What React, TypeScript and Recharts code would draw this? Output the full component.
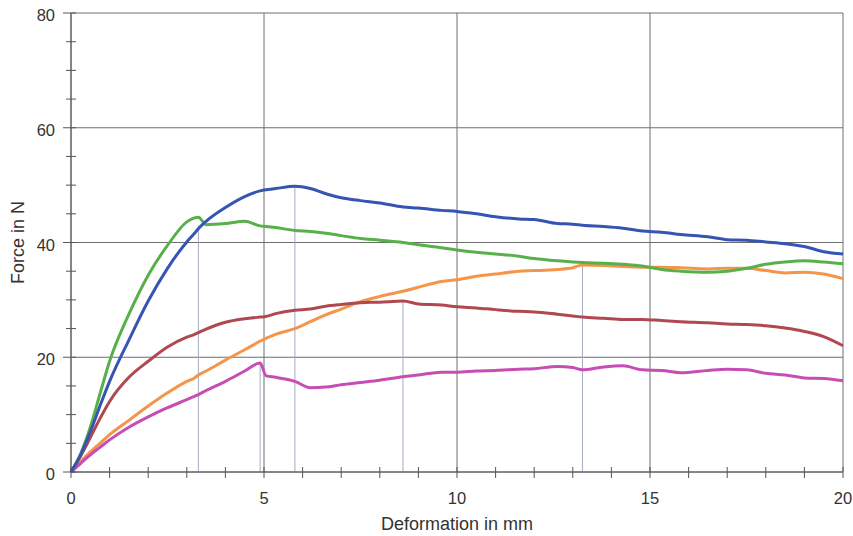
import React from 'react';
import { LineChart, Line, XAxis, YAxis, CartesianGrid, ReferenceLine } from 'recharts';

// deformation (mm) sample points shared by all curves
const deformation = [
  0, 0.25, 0.5, 0.75, 1, 1.5, 2, 2.5, 3, 3.2, 3.3, 3.5, 4, 4.5, 4.9, 5.05, 5.3, 5.8, 6.2, 6.6, 7, 7.5, 8, 8.6,
  9, 9.6, 10, 10.5, 11, 11.6, 12, 12.6, 13, 13.25, 13.8, 14.3, 14.8, 15.3, 15.8, 16.5, 17, 17.5, 18, 18.5, 19, 19.5, 20,
];

// force (N) per curve
const blueForce = [
  0, 3, 7, 11.5, 15.8, 23, 29.8, 35.5, 40.1, 41.6, 42.4, 43.7, 46.1, 48, 49, 49.2, 49.4, 49.8, 49.4, 48.5, 47.8, 47.3, 46.9, 46.2,
  46, 45.6, 45.4, 45, 44.5, 44.1, 44, 43.3, 43.2, 43, 42.8, 42.5, 42, 41.8, 41.4, 41, 40.5, 40.4, 40.1, 39.8, 39.3, 38.4, 38,
];
const greenForce = [
  0, 3.2, 7.8, 13.6, 19.3, 27.5, 34.3, 39.5, 43.6, 44.3, 44.4, 43.1, 43.3, 43.7, 42.9, 42.8, 42.6, 42.1, 41.9, 41.6, 41.2, 40.7, 40.4, 40,
  39.6, 39.1, 38.7, 38.3, 38, 37.6, 37.2, 36.8, 36.6, 36.5, 36.4, 36.2, 35.9, 35.3, 35, 34.8, 35, 35.5, 36.2, 36.6, 36.8, 36.6, 36.3,
];
const redForce = [
  0, 2.8, 6, 9.3, 12.3, 16.5, 19.3, 21.8, 23.5, 24, 24.3, 24.9, 26.1, 26.7, 27, 27.1, 27.6, 28.2, 28.4, 28.9, 29.2, 29.5, 29.6, 29.8,
  29.3, 29.1, 28.8, 28.6, 28.3, 28, 27.9, 27.5, 27.2, 27, 26.8, 26.6, 26.6, 26.4, 26.2, 26, 25.8, 25.7, 25.5, 25.1, 24.5, 23.6, 22,
];
const orangeForce = [
  0, 1.8, 3.5, 5, 6.5, 9, 11.5, 13.8, 15.8, 16.4, 16.9, 17.6, 19.5, 21.3, 22.8, 23.3, 24, 25, 26.2, 27.4, 28.4, 29.7, 30.6, 31.5,
  32.2, 33.2, 33.5, 34.1, 34.5, 35, 35.1, 35.3, 35.6, 36.1, 36, 35.8, 35.7, 35.7, 35.6, 35.4, 35.5, 35.5, 35.1, 34.7, 34.8, 34.5, 33.7,
];
const magentaForce = [
  0, 1.5, 3, 4.3, 5.6, 7.8, 9.6, 11.2, 12.6, 13.2, 13.5, 14.2, 15.8, 17.6, 19, 16.8, 16.5, 15.8, 14.7, 14.8, 15.2, 15.6, 16, 16.6,
  16.9, 17.4, 17.4, 17.6, 17.7, 17.9, 18, 18.4, 18.2, 17.8, 18.3, 18.5, 17.8, 17.7, 17.3, 17.7, 17.9, 17.8, 17.2, 16.9, 16.4, 16.3, 15.9,
];

// thin drop lines from the marked points down to the x axis
const markerX = [3.3, 4.9, 5.8, 8.6, 13.25];
const markerForce = [43, 19, 49.8, 29.8, 36.1];

const xTicks = Array.from({ length: 21 }, (_, i) => i);
const yTicks = Array.from({ length: 17 }, (_, i) => i * 5);

const data = deformation.map((d, i) => ({
  d,
  blue: blueForce[i],
  green: greenForce[i],
  red: redForce[i],
  orange: orangeForce[i],
  magenta: magentaForce[i],
}));

const FONT = '"Liberation Sans", Arial, sans-serif';
const AXIS = '#555';

const XTick = (props: any) => {
  const { x, y, payload } = props;
  const v = payload.value;
  return (
    <g>
      <line x1={x} x2={x} y1={y - 5} y2={y + 6} stroke={AXIS} strokeWidth={1} />
      {v % 5 === 0 && (
        <text x={x} y={y + 32} textAnchor="middle" fontSize={16.5} fill="#333" fontFamily={FONT}>
          {v}
        </text>
      )}
    </g>
  );
};

const YTick = (props: any) => {
  const { x, y, payload } = props;
  const v = payload.value;
  const major = v % 20 === 0;
  return (
    <g>
      <line x1={major ? x - 8 : x - 5} x2={x + 5} y1={y} y2={y} stroke={AXIS} strokeWidth={1} />
      {major && (
        <text x={x - 16} y={y + 8} textAnchor="end" fontSize={16.5} fill="#333" fontFamily={FONT}>
          {v}
        </text>
      )}
    </g>
  );
};

const series = [
  { key: 'orange', color: '#f4954a' },
  { key: 'red', color: '#b04850' },
  { key: 'magenta', color: '#c64db4' },
  { key: 'green', color: '#58b04a' },
  { key: 'blue', color: '#3654b2' },
];

export default function App() {
  return (
    <div style={{ position: 'absolute', left: 0, top: 0, width: 853, height: 536, background: '#fff' }}>
      <LineChart width={853} height={536} data={data} margin={{ top: 13, right: 10, bottom: 4, left: 11 }}>
        <CartesianGrid
          stroke="#6e6e6e"
          strokeWidth={1}
          horizontalValues={[0, 20, 40, 60, 80]}
          verticalValues={[0, 5, 10, 15, 20]}
        />
        <XAxis
          dataKey="d"
          type="number"
          domain={[0, 20]}
          ticks={xTicks}
          interval={0}
          height={60}
          tickSize={0}
          tickMargin={0}
          tickLine={false}
          axisLine={{ stroke: AXIS }}
          tick={<XTick />}
          label={{
            value: 'Deformation in mm',
            position: 'insideBottom',
            offset: 2,
            style: { fontSize: 18, fill: '#333', fontFamily: FONT },
          }}
        />
        <YAxis
          type="number"
          domain={[0, 80]}
          ticks={yTicks}
          interval={0}
          width={60}
          tickSize={0}
          tickMargin={0}
          tickLine={false}
          axisLine={{ stroke: AXIS }}
          tick={<YTick />}
          label={{
            value: 'Force in N',
            angle: -90,
            position: 'insideLeft',
            offset: 7,
            style: { fontSize: 18, fill: '#333', fontFamily: FONT, textAnchor: 'middle' },
          }}
        />
        {markerX.map((mx, i) => (
          <ReferenceLine
            key={mx}
            segment={[{ x: mx, y: 0 }, { x: mx, y: markerForce[i] }]}
            stroke="#a3abc6"
            strokeWidth={1}
          />
        ))}
        {series.map((s) => (
          <Line
            key={s.key}
            dataKey={s.key}
            type="monotoneX"
            stroke={s.color}
            strokeWidth={3}
            dot={false}
            activeDot={false}
            isAnimationActive={false}
          />
        ))}
      </LineChart>
    </div>
  );
}
